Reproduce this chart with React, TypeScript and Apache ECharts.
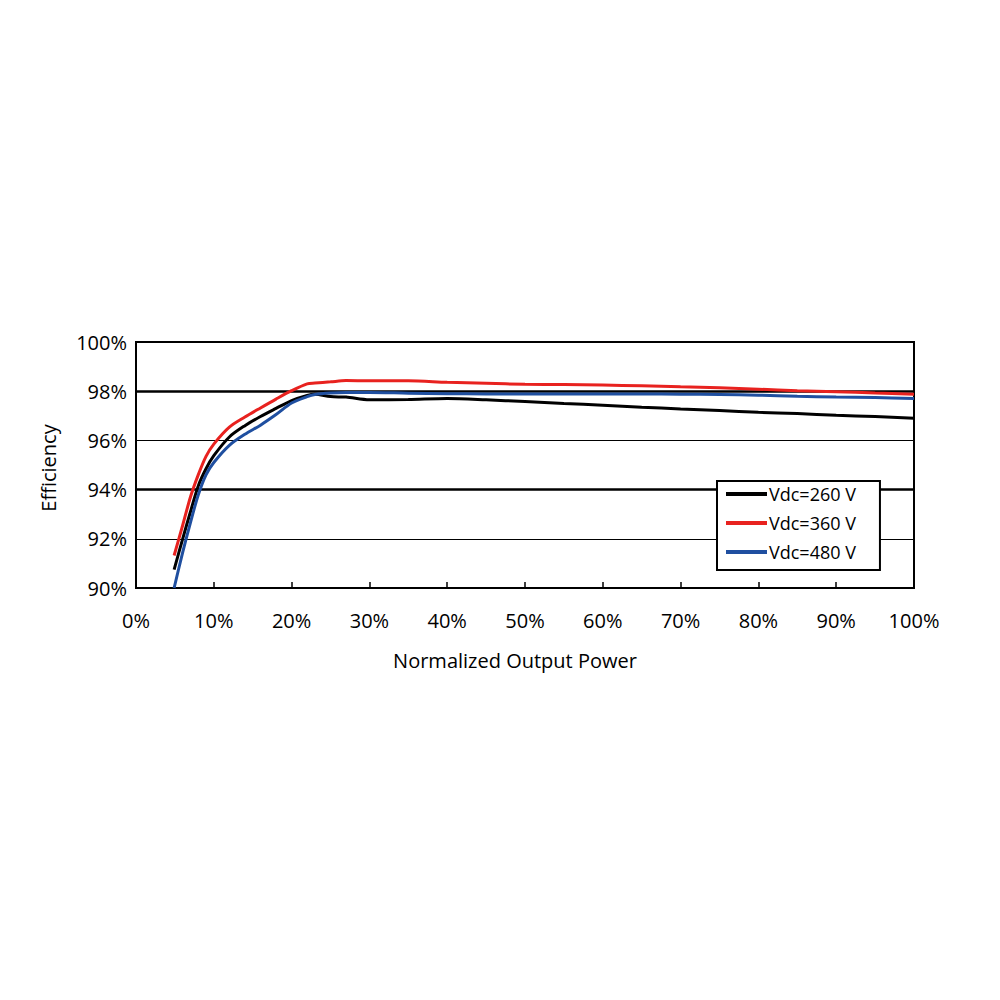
import React, { useEffect, useRef } from "react";
import * as echarts from "echarts";

const xPower = [4.9, 6, 7, 8, 9, 10, 12, 14, 16, 18, 20, 22, 23, 25, 27, 30, 35, 40, 45, 50, 55, 60, 65, 70, 75, 80, 85, 90, 95, 100];
const eff260 = [90.75, 92.0, 93.1, 94.15, 94.85, 95.38, 96.14, 96.6, 96.97, 97.3, 97.62, 97.83, 97.88, 97.78, 97.76, 97.65, 97.66, 97.7, 97.65, 97.58, 97.5, 97.43, 97.35, 97.28, 97.22, 97.14, 97.09, 97.02, 96.97, 96.9];
const eff360 = [91.32, 92.55, 93.7, 94.6, 95.35, 95.85, 96.54, 96.95, 97.32, 97.68, 98.02, 98.3, 98.33, 98.38, 98.43, 98.42, 98.42, 98.36, 98.32, 98.28, 98.27, 98.25, 98.22, 98.18, 98.14, 98.08, 98.02, 97.98, 97.93, 97.88];
const eff480 = [90.0, 91.45, 92.66, 93.78, 94.6, 95.1, 95.8, 96.25, 96.62, 97.05, 97.52, 97.78, 97.87, 97.93, 97.95, 97.95, 97.92, 97.9, 97.89, 97.89, 97.89, 97.89, 97.89, 97.88, 97.87, 97.84, 97.79, 97.76, 97.74, 97.7];
const seriesNames = ["Vdc=260 V", "Vdc=360 V", "Vdc=480 V"];
const seriesColors = ["#000000", "#e8221f", "#1f4fa0"];
const thickGridValues = [98, 94];
const xTitle = "Normalized Output Power";
const yTitle = "Efficiency";

const FONT = "Open Sans";

export default function App() {
  const ref = useRef<HTMLDivElement>(null);
  useEffect(() => {
    if (!ref.current) return;
    const chart = echarts.init(ref.current, undefined, { renderer: "svg" });
    const allSeries = [eff260, eff360, eff480];
    const series: any[] = allSeries.map((vals, i) => ({
      name: seriesNames[i],
      type: "line",
      data: xPower.map((x, j) => [x, vals[j]]),
      showSymbol: false,
      symbol: "none",
      smooth: 0.3,
      lineStyle: { color: seriesColors[i], width: 3 },
      itemStyle: { color: seriesColors[i] },
      z: 5 + i,
    }));
    series[0].markLine = {
      silent: true,
      symbol: "none",
      label: { show: false },
      lineStyle: { color: "#000", width: 2.5, type: "solid" },
      data: thickGridValues.map((v) => ({ yAxis: v })),
      z: 1,
    };
    chart.setOption({
      animation: false,
      backgroundColor: "#fff",
      textStyle: { fontFamily: FONT },
      grid: {
        left: 136,
        right: 86,
        top: 342,
        bottom: 412,
        show: true,
        borderColor: "#000",
        borderWidth: 2,
        backgroundColor: "transparent",
      },
      xAxis: {
        type: "value",
        min: 0,
        max: 100,
        interval: 10,
        axisLine: { show: true, lineStyle: { color: "#000", width: 2 } },
        axisTick: { show: true, inside: true, length: 6, lineStyle: { color: "#000", width: 1.5 } },
        splitLine: { show: false },
        axisLabel: {
          formatter: "{value}%",
          color: "#000",
          fontSize: 20,
          fontFamily: FONT,
          margin: 22,
        },
      },
      yAxis: {
        type: "value",
        min: 90,
        max: 100,
        interval: 2,
        axisLine: { show: true, lineStyle: { color: "#000", width: 2 } },
        axisTick: { show: false },
        splitLine: { show: true, lineStyle: { color: "#000", width: 1 } },
        axisLabel: {
          formatter: "{value}%",
          color: "#000",
          fontSize: 20,
          fontFamily: FONT,
          margin: 9,
        },
      },
      legend: {
        show: true,
        orient: "vertical",
        left: 717,
        top: 481,
        backgroundColor: "#fff",
        borderColor: "#000",
        borderWidth: 2,
        padding: [3, 24, 8, 9],
        itemGap: 9,
        itemWidth: 41,
        itemHeight: 4,
        icon: "rect",
        textStyle: { color: "#000", fontSize: 18, fontFamily: FONT, lineHeight: 20, padding: [0, 0, 0, -3] },
        data: seriesNames.map((n, i) => ({ name: n, itemStyle: { color: seriesColors[i] } })),
      },
      graphic: [
        {
          type: "text",
          x: 515,
          y: 660,
          style: {
            text: xTitle,
            fill: "#000",
            font: `20px '${FONT}'`,
            align: "center",
            verticalAlign: "middle",
          },
        },
        {
          type: "text",
          x: 48,
          y: 468,
          rotation: Math.PI / 2,
          style: {
            text: yTitle,
            fill: "#000",
            font: `20px '${FONT}'`,
            align: "center",
            verticalAlign: "middle",
          },
        },
      ],
      series,
    });
    return () => chart.dispose();
  }, []);
  return <div ref={ref} style={{ width: 1000, height: 1000, position: "absolute", left: 0, top: 0 }} />;
}
